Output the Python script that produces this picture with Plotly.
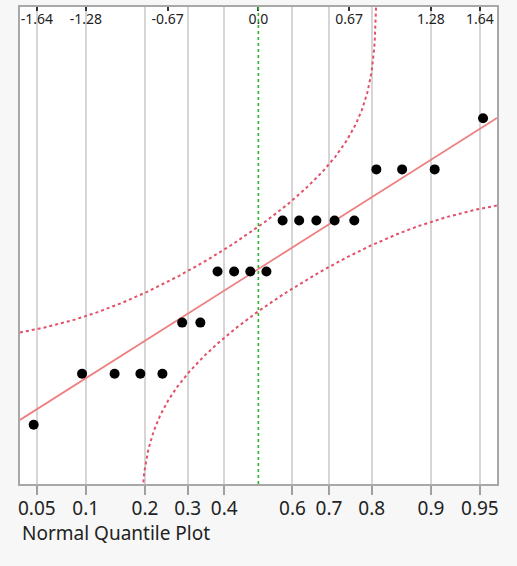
import plotly.graph_objects as go
from statistics import NormalDist

# ---------------- data ----------------
values = [1, 2, 2, 2, 2, 3, 3, 4, 4, 4, 4, 5, 5, 5, 5, 5, 6, 6, 6, 7]
prob_ticks = [0.05, 0.1, 0.2, 0.3, 0.4, 0.6, 0.7, 0.8, 0.9, 0.95]
prob_labels = ["0.05", "0.1", "0.2", "0.3", "0.4", "0.6", "0.7", "0.8", "0.9", "0.95"]
z_ticks = [-1.645, -1.2816, -0.6745, 0.0, 0.6745, 1.2816, 1.645]
z_labels = ["-1.64", "-1.28", "-0.67", "0.0", "0.67", "1.28", "1.64"]
lilliefors_d = 0.19  # band half-width in probability units

N = NormalDist()
n = len(values)
ys = sorted(values)
zq = [N.inv_cdf((i + 1) / (n + 1)) for i in range(n)]
mean = sum(ys) / n
sd = (sum((v - mean) ** 2 for v in ys) / (n - 1)) ** 0.5

XR = [-1.77, 1.772]
YR = [-0.16, 9.18]

# fit line & bands evaluated along the axis
zgrid = [XR[0] + (XR[1] - XR[0]) * k / 800 for k in range(801)]
fit_y = [mean + sd * z for z in zgrid]

up_x, up_y, lo_x, lo_y = [], [], [], []
for z in zgrid:
    p = N.cdf(z)
    if p + lilliefors_d < 1 - 1e-9:
        up_x.append(z); up_y.append(mean + sd * N.inv_cdf(p + lilliefors_d))
    if p - lilliefors_d > 1e-9:
        lo_x.append(z); lo_y.append(mean + sd * N.inv_cdf(p - lilliefors_d))
# extend near the asymptotes
pa = 1 - lilliefors_d
for e in [1e-3, 3e-4, 1e-4, 3e-5, 1e-5, 1e-6]:
    up_x.append(N.inv_cdf(pa - e)); up_y.append(mean + sd * N.inv_cdf(1 - e))
pb = lilliefors_d
for e in [1e-3, 3e-4, 1e-4, 3e-5, 1e-5, 1e-6]:
    lo_x.insert(0, N.inv_cdf(pb + e)); lo_y.insert(0, mean + sd * N.inv_cdf(e))
up = sorted(zip(up_x, up_y)); lo = sorted(zip(lo_x, lo_y))

prob_pos = [N.inv_cdf(p) for p in prob_ticks]

FONT = "Noto Sans"
RED = "#e2506a"

fig = go.Figure()
fig.add_trace(go.Scatter(x=[a for a, b in up], y=[b for a, b in up], mode="lines",
                         line=dict(color=RED, width=2, dash="dot"), hoverinfo="skip"))
fig.add_trace(go.Scatter(x=[a for a, b in lo], y=[b for a, b in lo], mode="lines",
                         line=dict(color=RED, width=2, dash="dot"), hoverinfo="skip"))
fig.add_trace(go.Scatter(x=zgrid, y=fit_y, mode="lines",
                         line=dict(color="#ee8080", width=1.8), hoverinfo="skip"))
fig.add_trace(go.Scatter(x=zq, y=ys, mode="markers", cliponaxis=False,
                         marker=dict(color="black", size=10)))
# invisible trace for top axis
fig.add_trace(go.Scatter(x=[0], y=[0], xaxis="x2", mode="markers",
                         marker=dict(opacity=0), hoverinfo="skip"))

fig.add_shape(type="line", xref="x", yref="paper", x0=0, x1=0, y0=0, y1=1,
              line=dict(color="#2db42d", width=1.6, dash="dot"), layer="above")

fig.update_layout(
    width=517, height=566,
    margin=dict(l=20, r=20, t=5, b=82),
    paper_bgcolor="#f7f7f7", plot_bgcolor="white",
    showlegend=False,
    xaxis=dict(range=XR, tickvals=prob_pos, ticktext=prob_labels,
               showgrid=True, gridcolor="#d6d6d6", gridwidth=1.5,
               zeroline=False, showline=True, linecolor="#a8a8a8", linewidth=1.5,
               mirror=True, ticks="outside", ticklen=9, tickcolor="#a0a0a0",
               tickwidth=1.5, ticklabelstandoff=-3,
               tickfont=dict(family=FONT, size=19, color="#222")),
    xaxis2=dict(range=XR, overlaying="x", side="top", tickvals=z_ticks,
                ticktext=z_labels, showgrid=False, zeroline=False,
                ticks="inside", ticklen=4, tickcolor="#333", tickwidth=1.5,
                ticklabelposition="inside", ticklabelstandoff=3,
                tickfont=dict(family=FONT, size=14, color="#222")),
    yaxis=dict(range=YR, showticklabels=False, showgrid=False, zeroline=False,
               showline=True, linecolor="#a8a8a8", linewidth=1.5, mirror=True,
               ticks=""),
    annotations=[dict(text="Normal Quantile Plot", xref="paper", yref="paper",
                      x=0, y=0, xshift=0, yshift=-34, xanchor="left", yanchor="top",
                      showarrow=False,
                      font=dict(family=FONT, size=19, color="#222"))],
)

fig.write_html("out.html", config={"displayModeBar": False},
               post_script="document.body.style.margin='0px';")
